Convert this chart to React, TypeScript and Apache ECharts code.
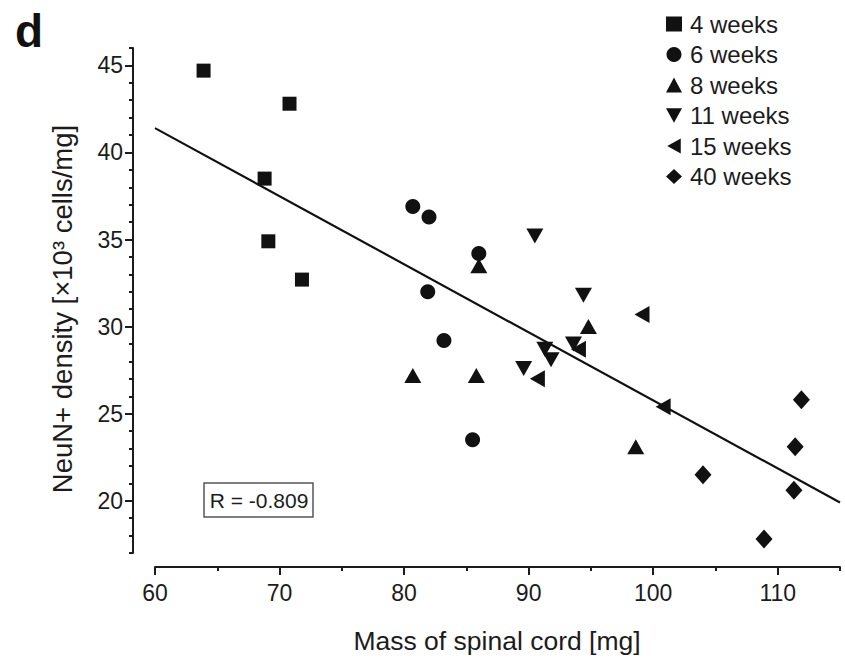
import React, { useEffect, useRef } from "react";
import * as echarts from "echarts";

// ---- data ----
const weeks4: number[][] = [[63.9, 44.7], [70.8, 42.8], [68.8, 38.5], [69.1, 34.9], [71.8, 32.7]];
const weeks6: number[][] = [[80.7, 36.9], [82.0, 36.3], [86.0, 34.2], [81.9, 32.0], [83.2, 29.2], [85.5, 23.5]];
const weeks8: number[][] = [[86.0, 33.5], [94.8, 30.0], [80.7, 27.2], [85.8, 27.2], [98.6, 23.1]];
const weeks11: number[][] = [[90.5, 35.2], [94.4, 31.8], [89.6, 27.6], [91.3, 28.7], [91.8, 28.1], [93.6, 29.0]];
const weeks15: number[][] = [[99.1, 30.7], [90.7, 27.0], [100.8, 25.4], [94.0, 28.7]];
const weeks40: number[][] = [[111.9, 25.8], [111.4, 23.1], [104.0, 21.5], [111.3, 20.6], [108.9, 17.8]];

const fitX = [60, 115];
const fitY = [41.4, 19.9];

const xMajorTicks = [60, 70, 80, 90, 100, 110];
const xMinorTicks = [65, 75, 85, 95, 105, 115];
const yMajorTicks = [20, 25, 30, 35, 40, 45];
const yMinorTicks = [17, 18, 19, 21, 22, 23, 24, 26, 27, 28, 29, 31, 32, 33, 34, 36, 37, 38, 39, 41, 42, 43, 44, 46];

const seriesNames = ["4 weeks", "6 weeks", "8 weeks", "11 weeks", "15 weeks", "40 weeks"];
const rValueText = "R = -0.809";
const xTitle = "Mass of spinal cord [mg]";
const yTitle = "NeuN+ density [×10³ cells/mg]";
const panelLabel = "d";

const FONT = "'Liberation Sans', Arial, Helvetica, sans-serif";
const INK = "#111111";

export default function App() {
  const ref = useRef<HTMLDivElement>(null);
  useEffect(() => {
    if (!ref.current) return;
    const chart = echarts.init(ref.current, null, { renderer: "svg" });
    const groups = [weeks4, weeks6, weeks8, weeks11, weeks15, weeks40];
    const symbols = [
      "rect",
      "circle",
      "triangle",
      "path://M0,0 L10,0 L5,9 Z",
      "path://M9,0 L9,10 L0,5 Z",
      "diamond",
    ];
    const sizes: any[] = [[14, 14], [15, 15], [17, 15], [17, 15], [15, 17], [17, 19]];
    const scatter = groups.map((g, i) => ({
      name: seriesNames[i],
      type: "scatter",
      data: g,
      symbol: symbols[i],
      symbolSize: sizes[i],
      itemStyle: { color: INK, opacity: 1 },
      xAxisIndex: 0,
      yAxisIndex: 0,
      z: 3,
    }));
    const axisLineStyle = { color: "#1c1c1c", width: 2 };
    const option: any = {
      animation: false,
      backgroundColor: "#ffffff",
      grid: { left: 155, right: 5, top: 48, bottom: 109, containLabel: false },
      legend: {
        data: seriesNames.map((n, i) => ({ name: n, icon: symbols[i], itemStyle: { color: INK, opacity: 1 } })),
        orient: "vertical",
        left: 661,
        top: 7,
        itemWidth: 16,
        itemHeight: 15,
        itemGap: 6.5,
        selectedMode: false,
        textStyle: { fontSize: 24, color: "#1c1c1c", fontFamily: FONT, padding: [0, 0, 0, 3] },
      },
      xAxis: [
        {
          type: "value",
          min: 60,
          max: 115,
          position: "bottom",
          offset: 14,
          axisLine: { show: true, lineStyle: axisLineStyle },
          axisTick: { show: true, customValues: xMajorTicks, length: 8, inside: false, lineStyle: axisLineStyle },
          axisLabel: { customValues: xMajorTicks, fontSize: 23, color: "#1c1c1c", margin: 14, fontFamily: FONT },
          splitLine: { show: false },
        },
        {
          type: "value",
          min: 60,
          max: 115,
          position: "bottom",
          offset: 14,
          axisLine: { show: false },
          axisTick: { show: true, customValues: xMinorTicks, length: 4, lineStyle: axisLineStyle },
          axisLabel: { show: false },
          splitLine: { show: false },
        },
      ],
      yAxis: [
        {
          type: "value",
          min: 17,
          max: 46,
          position: "left",
          offset: 22,
          axisLine: { show: true, lineStyle: axisLineStyle },
          axisTick: { show: true, customValues: yMajorTicks, length: 8, lineStyle: axisLineStyle },
          axisLabel: { customValues: yMajorTicks, fontSize: 23, color: "#1c1c1c", margin: 10, fontFamily: FONT },
          splitLine: { show: false },
        },
        {
          type: "value",
          min: 17,
          max: 46,
          position: "left",
          offset: 22,
          axisLine: { show: false },
          axisTick: { show: true, customValues: yMinorTicks, length: 4, lineStyle: axisLineStyle },
          axisLabel: { show: false },
          splitLine: { show: false },
        },
      ],
      series: [
        ...scatter,
        {
          name: "fit",
          type: "line",
          data: fitX.map((x, i) => [x, fitY[i]]),
          symbol: "none",
          lineStyle: { color: INK, width: 2.2 },
          xAxisIndex: 0,
          yAxisIndex: 0,
          z: 2,
        },
      ],
      graphic: [
        {
          type: "text",
          left: 15,
          top: 8,
          style: { text: panelLabel, fontSize: 46, fontWeight: "bold", fill: "#111", fontFamily: FONT },
        },
        {
          type: "text",
          x: 497,
          y: 641,
          style: { text: xTitle, fontSize: 26.5, fill: "#1c1c1c", fontFamily: FONT, align: "center", verticalAlign: "middle" },
        },
        {
          type: "text",
          x: 62,
          y: 309,
          rotation: Math.PI / 2,
          style: { text: yTitle, fontSize: 27.5, fill: "#1c1c1c", fontFamily: FONT, align: "center", verticalAlign: "middle" },
        },
        {
          type: "rect",
          shape: { x: 204, y: 483, width: 109, height: 34 },
          style: { fill: "#fff", stroke: "#555", lineWidth: 1.5 },
        },
        {
          type: "text",
          x: 259,
          y: 500,
          style: { text: rValueText, fontSize: 21, fill: "#1c1c1c", fontFamily: FONT, align: "center", verticalAlign: "middle" },
        },
      ],
    };
    chart.setOption(option);
    return () => chart.dispose();
  }, []);
  return <div ref={ref} style={{ width: 845, height: 662, position: "absolute", left: 0, top: 0 }} />;
}
